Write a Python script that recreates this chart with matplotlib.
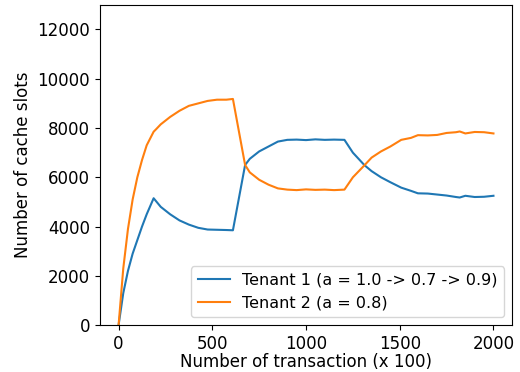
import matplotlib
matplotlib.use("Agg")
import matplotlib.pyplot as plt

t1_x = [0, 25, 50, 75, 100, 125, 150, 187, 225, 275, 325, 375, 425, 475, 525, 575, 610,
        675, 700, 750, 800, 850, 900, 950, 1000, 1050, 1100, 1150, 1205,
        1250, 1312, 1350, 1400, 1450, 1508, 1560, 1597, 1650, 1700, 1750, 1800, 1820, 1850, 1900, 1950, 2000]
t1_y = [0, 1300, 2200, 2900, 3450, 4000, 4500, 5150, 4800, 4500, 4250, 4080, 3950, 3880, 3870, 3860, 3850,
        6500, 6750, 7050, 7250, 7450, 7520, 7530, 7510, 7540, 7520, 7530, 7520,
        7000, 6490, 6250, 6000, 5800, 5580, 5450, 5350, 5340, 5300, 5260, 5200, 5180, 5250, 5200, 5210, 5250]

t2_x = [0, 25, 50, 75, 100, 125, 150, 187, 200, 225, 275, 325, 375, 425, 475, 525, 575, 610,
        675, 700, 750, 800, 850, 900, 950, 1000, 1050, 1100, 1150, 1205,
        1250, 1312, 1350, 1400, 1450, 1508, 1560, 1597, 1650, 1700, 1750, 1800, 1820, 1850, 1900, 1950, 2000]
t2_y = [0, 2300, 3900, 5100, 6000, 6700, 7300, 7850, 7950, 8150, 8450, 8700, 8900, 9000, 9100, 9150, 9150, 9180,
        6500, 6200, 5900, 5700, 5550, 5500, 5480, 5510, 5490, 5500, 5480, 5500,
        6000, 6490, 6800, 7050, 7250, 7520, 7600, 7710, 7700, 7720, 7800, 7830, 7860, 7780, 7840, 7830, 7780]

fig = plt.figure(figsize=(5.2, 3.72), dpi=100)
ax = fig.add_axes([0.192, 0.126, 0.793, 0.861])
ax.plot(t1_x, t1_y, color="#1f77b4", lw=1.5, label="Tenant 1 (a = 1.0 -> 0.7 -> 0.9)")
ax.plot(t2_x, t2_y, color="#ff7f0e", lw=1.5, label="Tenant 2 (a = 0.8)")
ax.set_xlim(-100, 2100)
ax.set_ylim(0, 13000)
ax.set_xticks([0, 500, 1000, 1500, 2000])
ax.set_yticks(range(0, 12001, 2000))
ax.tick_params(labelsize=12)
ax.set_xlabel("Number of transaction (x 100)", fontsize=12, labelpad=0)
ax.set_ylabel("Number of cache slots", fontsize=12)
ax.legend(loc="lower right", fontsize=11.5)
fig.savefig("out.png", dpi=100)
